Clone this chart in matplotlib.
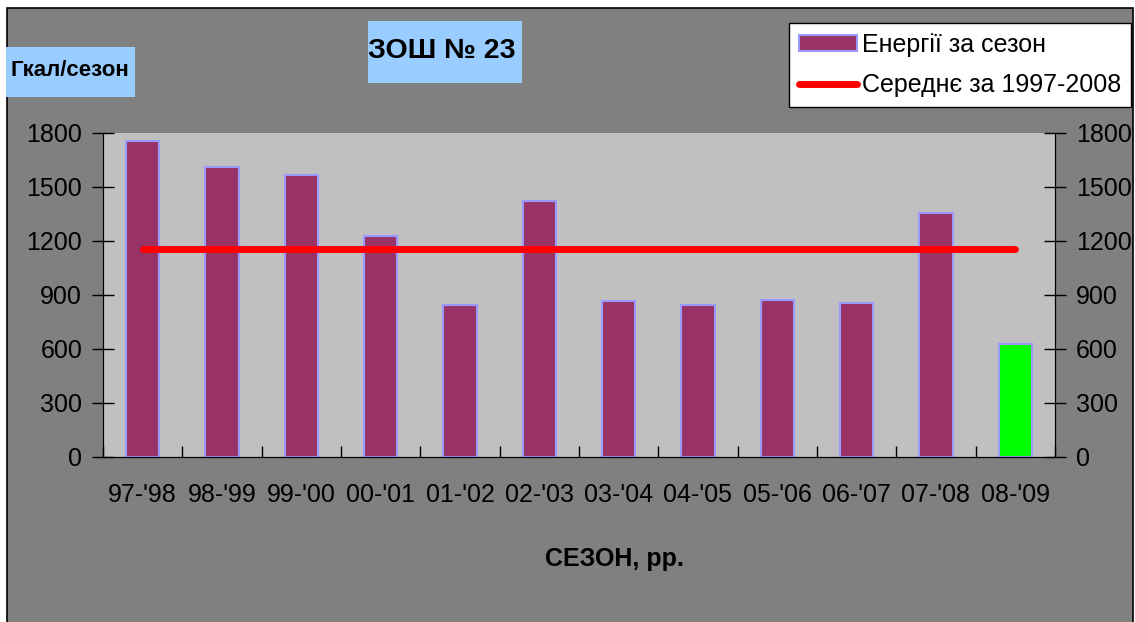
import matplotlib.pyplot as plt
from matplotlib.patches import Rectangle, Patch
from matplotlib.lines import Line2D

plt.rcParams['font.family'] = ['Liberation Sans', 'DejaVu Sans']

seasons = ["97-'98", "98-'99", "99-'00", "00-'01", "01-'02", "02-'03",
           "03-'04", "04-'05", "05-'06", "06-'07", "07-'08", "08-'09"]
energy = [1755, 1610, 1565, 1230, 845, 1420, 865, 845, 875, 855, 1355, 630]
average = 1155
y_ticks = [0, 300, 600, 900, 1200, 1500, 1800]

W, H = 1135, 622


def px_box(fig, x0, y0, x1, y1, **kw):
    """rectangle given in pixel coords, y measured from the top"""
    r = Rectangle((x0 / W, 1 - y1 / H), (x1 - x0) / W, (y1 - y0) / H,
                  transform=fig.transFigure, **kw)
    fig.patches.append(r)
    return r


def main():
    fig = plt.figure(figsize=(W / 100, H / 100), dpi=100)
    fig.patch.set_facecolor('white')
    # grey chart frame
    px_box(fig, 7, 8, 1133, 650, facecolor='#808080', edgecolor='black',
           linewidth=1.2, zorder=-2)

    ax = fig.add_axes([103 / W, 1 - 457 / H, 952 / W, 324 / H])
    ax.set_facecolor('#C0C0C0')
    x = list(range(len(seasons)))
    colors = ['#993366'] * (len(energy) - 1) + ['#00FF00']
    ax.bar(x, energy, width=0.42, color=colors, edgecolor='#9999FF',
           linewidth=1.5, zorder=2)
    ax.plot([x[0], x[-1]], [average, average], color='#FF0000', linewidth=5,
            solid_capstyle='round', zorder=3)

    ax.set_xlim(-0.5, len(seasons) - 0.5)
    ax.set_ylim(0, 1800)
    ax.set_yticks(y_ticks)
    ax.tick_params(axis='y', direction='inout', length=16, width=1,
                   labelsize=18, pad=7)
    ax.set_xticks([i - 0.5 for i in range(len(seasons) + 1)])
    ax.set_xticklabels([])
    ax.set_xticks(x, minor=True)
    ax.set_xticklabels(seasons, minor=True, fontsize=18)
    ax.tick_params(axis='x', which='major', direction='in', length=8, width=1)
    ax.tick_params(axis='x', which='minor', length=0, pad=19)
    ax.spines['top'].set_visible(False)

    ax2 = ax.twinx()
    ax2.set_ylim(0, 1800)
    ax2.set_yticks(y_ticks)
    ax2.tick_params(axis='y', direction='inout', length=16, width=1,
                    labelsize=18, pad=7)
    ax2.spines['top'].set_visible(False)

    fig.text(614 / W, 1 - 559 / H, 'СЕЗОН, рр.', fontsize=18,
             fontweight='bold', ha='center', va='center')

    # title and unit label on light blue boxes
    px_box(fig, 368, 21, 522, 83, facecolor='#99CCFF', edgecolor='none',
           zorder=1)
    fig.text(442 / W, 1 - 51 / H, 'ЗОШ № 23', fontsize=20.5,
             fontweight='bold', ha='center', va='center', zorder=2)
    px_box(fig, 6, 47, 135, 97, facecolor='#99CCFF', edgecolor='none',
           zorder=1)
    fig.text(70 / W, 1 - 71 / H, 'Гкал/сезон', fontsize=16, fontweight='bold',
             ha='center', va='center', zorder=2)

    handles = [Patch(facecolor='#993366', edgecolor='#9999FF', linewidth=1.5),
               Line2D([], [], color='#FF0000', linewidth=5,
                      solid_capstyle='round')]
    leg = fig.legend(handles, ['Енергії за сезон', 'Середнє за 1997-2008'],
                     loc='upper left', bbox_to_anchor=(789 / W, 1 - 23 / H),
                     fontsize=18, frameon=True, fancybox=False,
                     edgecolor='black', facecolor='white', framealpha=1,
                     borderpad=0.4, handlelength=2.3, handletextpad=0.2,
                     labelspacing=0.65, borderaxespad=0, handleheight=0.6)
    leg.get_frame().set_linewidth(1)

    fig.savefig('out.png', dpi=100)


if __name__ == "__main__":
    main()
